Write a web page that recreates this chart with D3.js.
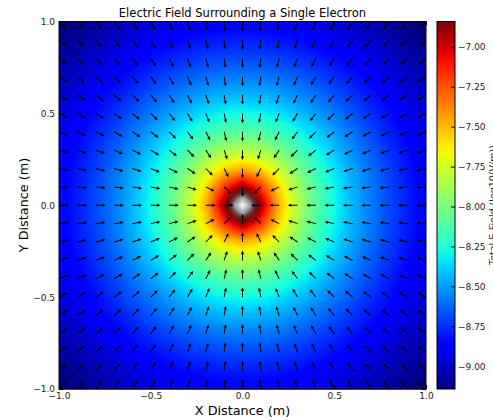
<!DOCTYPE html>
<html>
<head>
<meta charset="utf-8">
<script src="https://cdn.jsdelivr.net/npm/d3@7"></script>
<style>
    body { margin: 0; background: #fff; }
    svg { display: block; font-family: "DejaVu Sans", sans-serif; }
</style>
</head>
<body>
<svg id="chart" width="493" height="420"></svg>
<script>

    // grid the field was sampled on (m)
    const gridX = [-1.0, -0.9, -0.8, -0.7, -0.6, -0.5, -0.4, -0.3, -0.2, -0.1, 0.0,
                   0.1, 0.2, 0.3, 0.4, 0.5, 0.6, 0.7, 0.8, 0.9, 1.0];
    const gridY = [-1.0, -0.9, -0.8, -0.7, -0.6, -0.5, -0.4, -0.3, -0.2, -0.1, 0.0,
                   0.1, 0.2, 0.3, 0.4, 0.5, 0.6, 0.7, 0.8, 0.9, 1.0];

    const axisTicks = [-1.0, -0.5, 0.0, 0.5, 1.0];
    const colorTicks = [-9.00, -8.75, -8.50, -8.25, -8.00, -7.75, -7.50, -7.25, -7.00];

    // coulomb constant and electron charge
    const coulombK = 8.99e9;
    const electronQ = 1.602e-19;

    const titleText = "Electric Field Surrounding a Single Electron";
    const xLabel = "X Distance (m)";
    const yLabel = "Y Distance (m)";
    const cbarLabel = "Total E-Field (log10(V/m))";

    // log10 |E| on the grid, NaN where r = 0
    const field = gridY.map(yv => gridX.map(xv => {
        const r2 = xv * xv + yv * yv;
        return r2 === 0 ? NaN : Math.log10(coulombK * electronQ / r2);
    }));
    const flat = field.flat().filter(v => isFinite(v));
    const vmin = d3.min(flat), vmax = d3.max(flat);

    // matplotlib "jet"
    const jetR = [[0, 0], [0.35, 0], [0.66, 1], [0.89, 1], [1, 0.5]];
    const jetG = [[0, 0], [0.125, 0], [0.375, 1], [0.64, 1], [0.91, 0], [1, 0]];
    const jetB = [[0, 0.5], [0.11, 1], [0.34, 1], [0.65, 0], [1, 0]];
    function seg(pts, t) {
        for (let k = 1; k < pts.length; k++) {
            if (t <= pts[k][0]) {
                const a = pts[k - 1], b = pts[k];
                return a[1] + (b[1] - a[1]) * (t - a[0]) / (b[0] - a[0]);
            }
        }
        return pts[pts.length - 1][1];
    }
    const jet = t => [seg(jetR, t) * 255, seg(jetG, t) * 255, seg(jetB, t) * 255];

    const norm = d3.scaleLinear().domain([vmin, vmax]).range([0, 1]).clamp(true);

    const x = d3.scaleLinear().domain([-1, 1]).range([59, 426]);
    const y = d3.scaleLinear().domain([-1, 1]).range([389, 21.5]);
    const cScale = d3.scaleLinear().domain([vmin, vmax]).range([389, 21.5]);

    const svg = d3.select("#chart");

    // ---- heat map (imshow-like, 21x21 cells bilinear) ----
    const x0 = x(-1), y0 = y(1);
    const W = Math.round(x(1) - x0), H = Math.round(y(-1) - y0);
    const canvas = document.createElement("canvas");
    canvas.width = W;
    canvas.height = H;
    const ctx = canvas.getContext("2d");
    const img = ctx.createImageData(W, H);
    const n = gridX.length;
    const cell = 2 / n;
    const grey = [150, 150, 150], white = [255, 255, 255];

    for (let py = 0; py < H; py++) {
        const v = y.invert(y0 + py + 0.5);
        let fj = Math.max(0, Math.min(n - 1, (v + 1) / cell - 0.5));
        const j0 = Math.min(n - 2, Math.floor(fj)), ty = fj - j0;
        for (let px = 0; px < W; px++) {
            const u = x.invert(x0 + px + 0.5);
            let fi = Math.max(0, Math.min(n - 1, (u + 1) / cell - 0.5));
            const i0 = Math.min(n - 2, Math.floor(fi)), tx = fi - i0;
            const nodes = [
                [field[j0][i0], (1 - tx) * (1 - ty)],
                [field[j0][i0 + 1], tx * (1 - ty)],
                [field[j0 + 1][i0], (1 - tx) * ty],
                [field[j0 + 1][i0 + 1], tx * ty]
            ];
            let sum = 0, wsum = 0, wnan = 0;
            nodes.forEach(([val, w]) => {
                if (isFinite(val)) { sum += val * w; wsum += w; } else { wnan += w; }
            });
            let c = jet(norm(wsum > 0 ? sum / wsum : vmax));
            if (wnan > 0) {
                if (wnan < 0.5) {
                    const s = wnan / 0.5;
                    c = c.map((ch, k) => ch * (1 - s) * (1 - 0.35 * s) + grey[k] * s * s);
                } else {
                    const s = (wnan - 0.5) / 0.5;
                    c = grey.map((ch, k) => ch * (1 - s) + white[k] * s);
                }
            }
            const idx = (py * W + px) * 4;
            img.data[idx] = c[0];
            img.data[idx + 1] = c[1];
            img.data[idx + 2] = c[2];
            img.data[idx + 3] = 255;
        }
    }
    ctx.putImageData(img, 0, 0);

    svg.append("image")
        .attr("x", x0)
        .attr("y", y0)
        .attr("width", W)
        .attr("height", H)
        .attr("preserveAspectRatio", "none")
        .attr("href", canvas.toDataURL());

    // ---- quiver arrows (unit vectors, pivot at tail) ----
    const arrowLen = 9.8, shaftHw = 0.5, headLen = 3.8, headAxis = 3.3, headHw = 1.8;
    const arrowShape = [
        [0, -shaftHw], [arrowLen - headAxis, -shaftHw], [arrowLen - headLen, -headHw],
        [arrowLen, 0], [arrowLen - headLen, headHw], [arrowLen - headAxis, shaftHw], [0, shaftHw]
    ];
    const arrows = [];
    gridY.forEach(yv => gridX.forEach(xv => {
        const r = Math.hypot(xv, yv);
        if (r > 0) arrows.push({x: xv, y: yv, ex: -xv / r, ey: -yv / r});
    }));

    svg.append("g")
        .selectAll("path")
        .data(arrows)
        .enter()
        .append("path")
        .attr("d", "M" + arrowShape.map(p => p.join(",")).join("L") + "Z")
        .attr("fill", "black")
        .attr("transform", function (d) {
            const ang = Math.atan2(-d.ey, d.ex) * 180 / Math.PI;
            return "translate(" + x(d.x) + "," + y(d.y) + ") rotate(" + ang + ")";
        });

    // ---- axes ----
    const fmt1 = d3.format(".1f");
    const styleAxis = g => {
        g.selectAll(".domain").remove();
        g.selectAll("line").attr("stroke", "black");
        g.selectAll("text").attr("font-size", 9).attr("fill", "#222").attr("font-family", "DejaVu Sans");
    };

    svg.append("g")
        .attr("transform", "translate(0,389)")
        .call(d3.axisBottom(x).tickValues(axisTicks).tickFormat(fmt1).tickSize(-4).tickPadding(4))
        .call(styleAxis);
    svg.append("g")
        .attr("transform", "translate(59,0)")
        .call(d3.axisLeft(y).tickValues(axisTicks).tickFormat(fmt1).tickSize(-4).tickPadding(4))
        .call(styleAxis);
    svg.append("g")
        .attr("transform", "translate(0,21.5)")
        .call(d3.axisTop(x).tickValues(axisTicks).tickFormat("").tickSize(-4))
        .call(styleAxis);
    svg.append("g")
        .attr("transform", "translate(426,0)")
        .call(d3.axisRight(y).tickValues(axisTicks).tickFormat("").tickSize(-4))
        .call(styleAxis);

    svg.append("rect")
        .attr("x", x0).attr("y", y0)
        .attr("width", x(1) - x0).attr("height", y(-1) - y0)
        .attr("fill", "none").attr("stroke", "black").attr("stroke-width", 1);

    // ---- colorbar ----
    const cbX = 437, cbW = 18;
    const grad = svg.append("defs").append("linearGradient")
        .attr("id", "jetgrad")
        .attr("x1", 0).attr("y1", 1).attr("x2", 0).attr("y2", 0);
    grad.selectAll("stop")
        .data(d3.range(0, 1.0001, 0.02))
        .enter()
        .append("stop")
        .attr("offset", d => d)
        .attr("stop-color", d => d3.rgb(...jet(d)).toString());

    svg.append("rect")
        .attr("x", cbX).attr("y", cScale(vmax))
        .attr("width", cbW).attr("height", cScale(vmin) - cScale(vmax))
        .attr("fill", "url(#jetgrad)")
        .attr("stroke", "black").attr("stroke-width", 1);

    svg.append("g")
        .attr("transform", "translate(" + (cbX + cbW) + ",0)")
        .call(d3.axisRight(cScale).tickValues(colorTicks).tickFormat(d3.format(".2f")).tickSize(-4).tickPadding(3))
        .call(styleAxis);

    // ---- texts ----
    svg.append("text")
        .attr("x", 242.5).attr("y", 17)
        .attr("text-anchor", "middle")
        .attr("font-size", 11.5)
        .text(titleText);

    svg.append("text")
        .attr("x", 242.5).attr("y", 415)
        .attr("text-anchor", "middle")
        .attr("font-size", 12.8)
        .text(xLabel);

    svg.append("text")
        .attr("transform", "translate(28,205) rotate(-90)")
        .attr("text-anchor", "middle")
        .attr("font-size", 12.8)
        .text(yLabel);

    // colorbar label runs off the right edge, as in the original figure
    svg.append("text")
        .attr("transform", "translate(495.5,205) rotate(-90)")
        .attr("text-anchor", "middle")
        .attr("font-size", 9.5)
        .attr("fill", "#222")
        .text(cbarLabel);

</script>
</body>
</html>
